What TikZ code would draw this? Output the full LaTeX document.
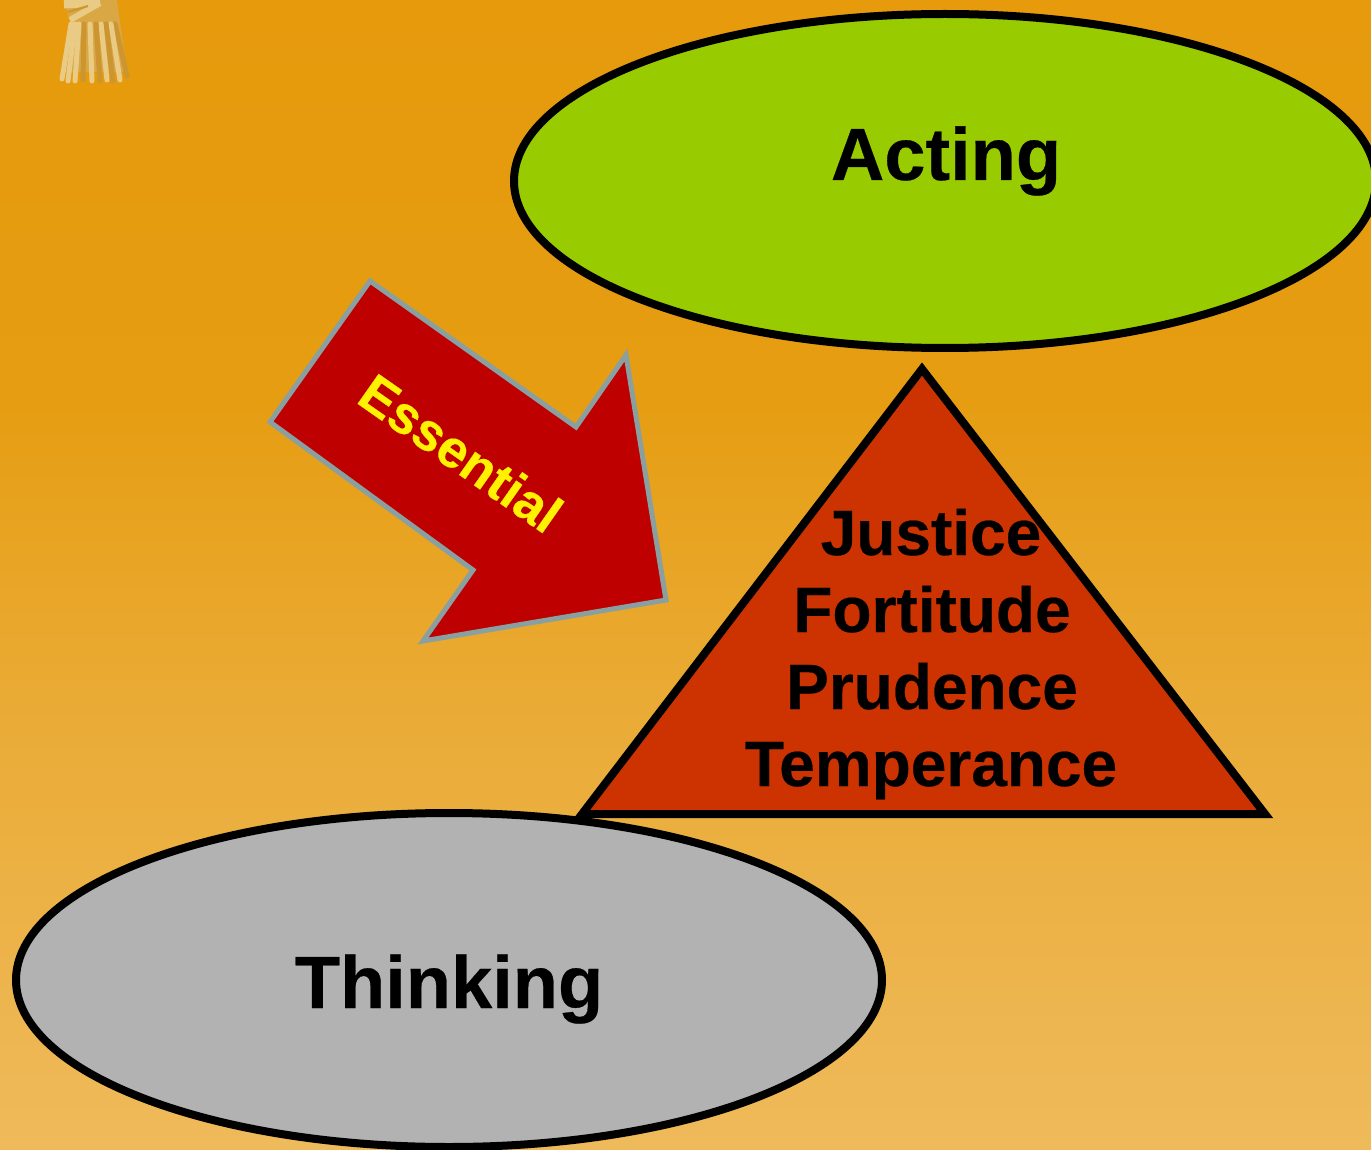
\documentclass[tikz,border=0pt]{standalone}
\usepackage{fontspec}
\setmainfont[BoldFeatures={FakeBold=0.35}]{Liberation Sans}
\usetikzlibrary{shapes.geometric}
\definecolor{bgtop}{HTML}{E69A0C}
\definecolor{bgC}{HTML}{E69D12}
\definecolor{bgD}{HTML}{EAAB35}
\definecolor{bgbot}{HTML}{EFBA5B}
\definecolor{actgreen}{HTML}{99CC00}
\definecolor{thinkgrey}{HTML}{B2B2B2}
\definecolor{trired}{HTML}{CC3300}
\definecolor{arrowred}{HTML}{BE0000}
\definecolor{arrowedge}{HTML}{8AA0A0}
\definecolor{tasA}{HTML}{D9A845}
\definecolor{tasB}{HTML}{CC9530}
\definecolor{tasC}{HTML}{EACB85}
\pgfdeclareverticalshading{bgshade}{100bp}{color(0bp)=(bgbot); color(25bp)=(bgbot); color(44.5bp)=(bgD); color(57.5bp)=(bgC); color(75bp)=(bgtop); color(100bp)=(bgtop)}
\tikzset{
  x=1pt,y=-1pt,
  oval/.style={draw=black,line width=8pt},
  biglabel/.style={font=\fontsize{74}{80}\selectfont\bfseries,inner sep=0pt,text=black,anchor=base},
  virtue/.style={font=\fontsize{64}{70}\selectfont\bfseries,inner sep=0pt,text=black,anchor=base},
  tassel/.style={line width=5pt,line cap=round}
}
\begin{document}
\begin{tikzpicture}
\useasboundingbox (0,0) rectangle (1371,1150);
\shade[shading=bgshade] (0,0) rectangle (1371,1150);
% tassel
\fill[tasA] (70,22) -- (63,72) -- (127,72) -- (117,0) -- (64,0) -- cycle;
\foreach \a/\b/\e/\c in {115/127/76/tasB,111/120/80/tasC,106/113/81/tasB,101/107/80/tasC,96/100/81/tasB,90/92/81/tasC,84/83/80/tasB,79/75/81/tasC,75/68/81/tasC,71/62/79/tasC}
  \draw[tassel,\c] (\a,24) -- (\b,\e);
\draw[line width=9pt,tasC] (64,4) -- (100,2);
\draw[line width=6pt,tasC] (70,20) -- (100,3);
\draw[line width=2pt,tasB] (68,12) -- (88,6);
% ovals
\draw[oval,fill=actgreen] (945,181) ellipse [x radius=431,y radius=167];
\draw[oval,fill=thinkgrey] (449,980) ellipse [x radius=433,y radius=167];
% triangle
\draw[oval,fill=trired,line join=miter] (922,369) -- (1265,814) -- (582,814) -- cycle;
% arrow
\draw[draw=arrowedge,line width=5pt,fill=arrowred,line join=miter]
  (370,281) -- (576,427) -- (626,355) -- (666,600) -- (423,641) -- (473,570) -- (270,422) -- cycle;
\node[biglabel] (acting) at (946,180) {Acting};
\node[biglabel] (thinking) at (449,1008) {Thinking};
\node[virtue] (justice) at (931,555) {Justice};
\node[virtue] (fortitude) at (932,632) {Fortitude};
\node[virtue] (prudence) at (932,709) {Prudence};
\node[virtue] (temperance) at (931,786) {Temperance};
\node[font=\fontsize{53}{60}\selectfont\bfseries,text=yellow,inner sep=0pt,rotate=-35] (essential) at (461,453) {Essential};
\end{tikzpicture}
\end{document}
